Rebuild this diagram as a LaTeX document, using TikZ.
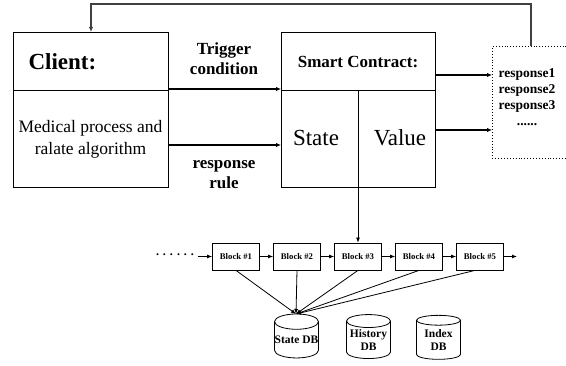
\documentclass[tikz,border=0pt]{standalone}
\usepackage{fontspec}
\setmainfont{Liberation Serif}
\usetikzlibrary{arrows.meta,shapes.geometric}
\begin{document}
\begin{tikzpicture}[x=1pt,y=-1pt,
 box/.style={draw,line width=0.9pt,inner sep=0pt,anchor=north west},
 flow/.style={line width=1.6pt,-{Latex[length=5pt,width=4.5pt]}},
 thinarrow/.style={line width=0.8pt,-{Latex[length=5pt,width=4pt]}},
 blk/.style={draw,line width=0.8pt,minimum width=47pt,minimum height=27pt,inner sep=0pt,font=\fontsize{8.7}{10}\selectfont\bfseries},
 db/.style={cylinder,shape border rotate=90,draw,line width=0.8pt,aspect=0.35,minimum width=44pt,minimum height=44pt,inner sep=0pt,align=center,font=\fontsize{11.5}{13}\selectfont\bfseries},
 lbl/.style={font=\fontsize{17}{20}\selectfont\bfseries,align=center}]
\useasboundingbox (0,0) rectangle (566,366);

% client
\node[box,minimum width=155pt,minimum height=155pt] (client) at (13,32) {};
\draw[line width=0.8pt] (client.west |- 0,90) -- (client.east |- 0,90);
\node[font=\fontsize{23}{26}\selectfont\bfseries,anchor=west] (clienttitle) at (25,62) {Client:};
\node[font=\fontsize{17.5}{22}\selectfont,align=center] (clienttext) at (90.5,139) {Medical process and\\ralate algorithm};

% smart contract
\node[box,minimum width=154pt,minimum height=155pt] (sc) at (281,32) {};
\coordinate (split) at (358,90);
\draw[line width=0.8pt] (sc.west |- split) -- (sc.east |- split);
\draw[line width=0.8pt] (split) -- (sc.south -| split);
\node[lbl] (sctitle) at (358,62) {Smart Contract:};
\node[font=\fontsize{23}{26}\selectfont] (state) at (316,138) {State};
\node[font=\fontsize{23}{26}\selectfont] (value) at (400,138) {Value};

% labels between
\node[lbl] (trigger) at (224,59) {Trigger\\condition};
\node[lbl] (rule) at (224,175) {response\\rule};

% arrows client -> sc
\draw[flow] (client.east |- 0,89) -- (sc.west |- 0,89);
\draw[flow] (client.east |- 0,145) -- (sc.west |- 0,145);

% responses
\node[draw,dotted,line width=0.9pt,anchor=north west,minimum width=110pt,minimum height=112pt,inner sep=0pt] (resp) at (492,46) {};
\node[font=\fontsize{13.5}{16}\selectfont\bfseries,align=center] (resptext) at (527,97) {response1\\response2\\response3\\......};
\draw[flow] (sc.east |- 0,75) -- (resp.west |- 0,75);
\draw[flow] (sc.east |- 0,130) -- (resp.west |- 0,130);

% feedback
\draw[line width=1.2pt,black!75,-{Latex[length=5pt,width=4.5pt]}] (resp.north -| 531,0) -- (531,4) -- (91,4) -- (client.north -| 91,0);

% blocks
\node[blk] (b1) at (236,256.5) {Block \#1};
\node[blk] (b2) at (297,256.5) {Block \#2};
\node[blk] (b3) at (358,256.5) {Block \#3};
\node[blk] (b4) at (419,256.5) {Block \#4};
\node[blk] (b5) at (480,256.5) {Block \#5};
\node[font=\fontsize{12}{14}\selectfont\bfseries,inner sep=0pt] (dots) at (175,255) {. . . . . .};
\coordinate (chainstart) at (198,256.5);
\coordinate (chainend) at (517,256.5);
\draw[thinarrow] (chainstart) -- (b1.west);
\draw[thinarrow] (b1) -- (b2);
\draw[thinarrow] (b2) -- (b3);
\draw[thinarrow] (b3) -- (b4);
\draw[thinarrow] (b4) -- (b5);
\draw[thinarrow] (b5) -- (chainend);
\draw[thinarrow] (split) -- (b3.north);

% junction
\coordinate (jn) at (296,314);
\draw[thinarrow] (b1.south) -- (jn);
\draw[thinarrow] (b2.south) -- (jn);
\draw[thinarrow] (b3.south) -- (jn);
\draw[thinarrow] (b4.south) -- (jn);
\draw[thinarrow] ([xshift=-5pt]b5.south) -- (jn);

% databases
\node[db] (statedb) at (296.5,340) {State DB};
\node[db] (histdb) at (368.5,340) {History\\DB};
\node[db] (indexdb) at (438.5,340) {Index\\DB};
\end{tikzpicture}
\end{document}
